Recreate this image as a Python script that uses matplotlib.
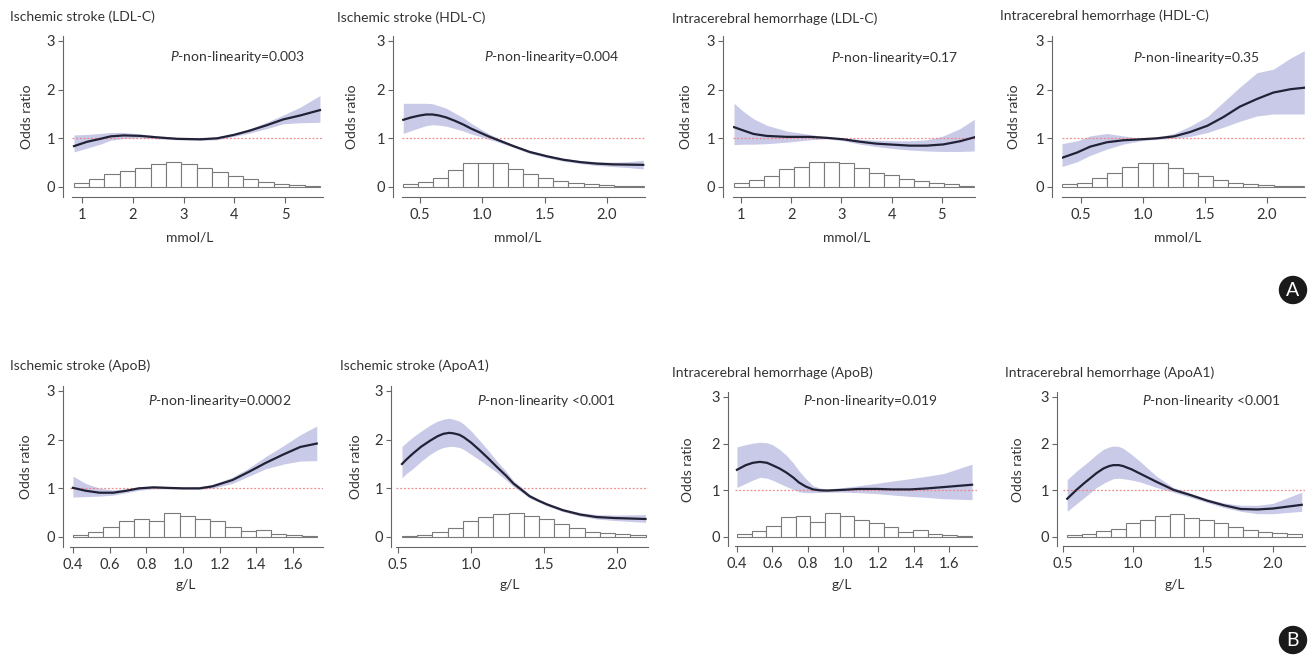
import numpy as np
import matplotlib
matplotlib.use("Agg")
import matplotlib.pyplot as plt
from matplotlib.patches import Circle

plt.rcParams['font.family'] = ['Lato', 'DejaVu Sans']
plt.rcParams['mathtext.fontset'] = 'custom'
plt.rcParams['mathtext.rm'] = 'Lato'
plt.rcParams['mathtext.it'] = 'Lato:italic'

W, H = 1316, 657
TXT = '#333333'
AXC = '#666666'
BAND = '#c9cae8'
LINE = '#222236'
REF = '#f08080'

# ---- A: ischemic stroke, LDL-C ----
is_ldl_x = [0.84, 1.1, 1.36, 1.56, 1.82, 2.15, 2.48, 2.87, 3.33, 3.66, 3.99, 4.31, 4.64, 4.97, 5.30, 5.69]
is_ldl_or = [0.84, 0.93, 0.99, 1.04, 1.06, 1.05, 1.02, 0.99, 0.98, 1.0, 1.07, 1.16, 1.27, 1.39, 1.47, 1.58]
is_ldl_hi = [1.07, 1.08, 1.10, 1.12, 1.12, 1.09, 1.05, 1.02, 1.01, 1.03, 1.10, 1.20, 1.33, 1.48, 1.64, 1.88]
is_ldl_lo = [0.72, 0.80, 0.88, 0.96, 1.0, 1.01, 0.99, 0.97, 0.96, 0.97, 1.04, 1.11, 1.20, 1.30, 1.32, 1.33]
is_ldl_hist = [0.08, 0.16, 0.27, 0.33, 0.40, 0.48, 0.51, 0.48, 0.39, 0.31, 0.23, 0.16, 0.10, 0.07, 0.04, 0.03]
is_ldl_bins = (0.83, 5.69)

# ---- A: ischemic stroke, HDL-C ----
is_hdl_x = [0.366, 0.43, 0.5, 0.55, 0.6, 0.65, 0.71, 0.78, 0.85, 0.91, 0.98, 1.05, 1.12, 1.25, 1.38, 1.52,
            1.65, 1.79, 1.92, 2.05, 2.17, 2.29]
is_hdl_or = [1.38, 1.43, 1.47, 1.49, 1.49, 1.47, 1.43, 1.36, 1.28, 1.20, 1.12, 1.04, 0.97, 0.84, 0.72, 0.63,
             0.56, 0.51, 0.48, 0.465, 0.46, 0.455]
is_hdl_hi = [1.72, 1.72, 1.72, 1.72, 1.71, 1.67, 1.62, 1.52, 1.42, 1.31, 1.20, 1.10, 1.01, 0.87, 0.75, 0.66,
             0.59, 0.54, 0.52, 0.51, 0.52, 0.55]
is_hdl_lo = [1.10, 1.16, 1.22, 1.26, 1.28, 1.27, 1.25, 1.20, 1.15, 1.09, 1.04, 0.98, 0.93, 0.81, 0.69, 0.60,
             0.53, 0.48, 0.44, 0.42, 0.40, 0.37]
is_hdl_hist = [0.055, 0.10, 0.19, 0.34, 0.49, 0.50, 0.49, 0.36, 0.27, 0.19, 0.12, 0.09, 0.06, 0.035, 0.02, 0.015]
is_hdl_bins = (0.361, 2.295)

# ---- A: intracerebral hemorrhage, LDL-C ----
ich_ldl_x = [0.86, 1.05, 1.25, 1.51, 1.91, 2.37, 2.71, 3.04, 3.37, 3.70, 4.03, 4.36, 4.70, 5.03, 5.36, 5.645]
ich_ldl_or = [1.23, 1.16, 1.09, 1.05, 1.03, 1.03, 1.01, 0.98, 0.93, 0.89, 0.87, 0.85, 0.85, 0.875, 0.94, 1.02]
ich_ldl_hi = [1.72, 1.55, 1.40, 1.27, 1.15, 1.08, 1.03, 1.0, 0.98, 0.96, 0.95, 0.95, 0.97, 1.05, 1.20, 1.39]
ich_ldl_lo = [0.87, 0.88, 0.88, 0.89, 0.92, 0.97, 0.99, 0.95, 0.88, 0.83, 0.79, 0.76, 0.74, 0.73, 0.73, 0.74]
ich_ldl_hist = [0.09, 0.15, 0.23, 0.36, 0.42, 0.51, 0.51, 0.49, 0.39, 0.29, 0.24, 0.17, 0.125, 0.08, 0.055, 0.03]
ich_ldl_bins = (0.861, 5.645)

# ---- A: intracerebral hemorrhage, HDL-C ----
ich_hdl_x = [0.347, 0.47, 0.575, 0.71, 0.84, 0.98, 1.11, 1.25, 1.38, 1.52, 1.65, 1.78, 1.92, 2.05, 2.19, 2.30]
ich_hdl_or = [0.60, 0.71, 0.83, 0.92, 0.96, 0.98, 1.0, 1.04, 1.13, 1.26, 1.44, 1.65, 1.81, 1.94, 2.01, 2.04]
ich_hdl_hi = [0.89, 0.95, 1.05, 1.10, 1.05, 1.0, 1.02, 1.10, 1.25, 1.45, 1.75, 2.05, 2.35, 2.42, 2.65, 2.80]
ich_hdl_lo = [0.42, 0.52, 0.65, 0.78, 0.88, 0.95, 0.98, 1.0, 1.04, 1.12, 1.23, 1.35, 1.46, 1.50, 1.50, 1.50]
ich_hdl_hist = [0.055, 0.085, 0.18, 0.28, 0.42, 0.50, 0.49, 0.39, 0.28, 0.22, 0.145, 0.09, 0.06, 0.05, 0.03, 0.02]
ich_hdl_bins = (0.347, 2.296)

# ---- B: ischemic stroke, ApoB ----
is_apob_x = [0.4, 0.47, 0.545, 0.62, 0.69, 0.76, 0.84, 0.91, 1.0, 1.09, 1.16, 1.27, 1.36, 1.45, 1.55, 1.64, 1.73]
is_apob_or = [1.01, 0.95, 0.91, 0.91, 0.95, 1.0, 1.02, 1.01, 1.0, 1.0, 1.04, 1.17, 1.34, 1.52, 1.70, 1.85, 1.92]
is_apob_hi = [1.25, 1.10, 1.0, 0.97, 0.99, 1.03, 1.05, 1.04, 1.02, 1.03, 1.08, 1.23, 1.42, 1.65, 1.88, 2.10, 2.28]
is_apob_lo = [0.82, 0.83, 0.84, 0.86, 0.91, 0.96, 0.99, 0.99, 0.98, 0.98, 1.0, 1.10, 1.25, 1.40, 1.50, 1.56, 1.57]
is_apob_hist = [0.04, 0.11, 0.20, 0.32, 0.38, 0.33, 0.50, 0.43, 0.36, 0.32, 0.21, 0.12, 0.14, 0.07, 0.05, 0.02]
is_apob_bins = (0.4, 1.731)

# ---- B: ischemic stroke, ApoA1 ----
is_apoa_x = [0.527, 0.56, 0.60, 0.66, 0.72, 0.77, 0.81, 0.85, 0.88, 0.92, 0.95, 1.0, 1.06, 1.12, 1.18, 1.24,
             1.29, 1.35, 1.40, 1.46, 1.52, 1.63, 1.75, 1.86, 1.98, 2.195]
is_apoa_or = [1.50, 1.60, 1.71, 1.86, 1.98, 2.07, 2.12, 2.14, 2.13, 2.10, 2.05, 1.94, 1.78, 1.61, 1.43, 1.26,
              1.10, 0.96, 0.84, 0.75, 0.67, 0.55, 0.46, 0.41, 0.39, 0.37]
is_apoa_hi = [1.86, 1.95, 2.05, 2.18, 2.30, 2.38, 2.42, 2.44, 2.42, 2.38, 2.32, 2.18, 1.98, 1.77, 1.55, 1.35,
              1.16, 1.01, 0.88, 0.78, 0.70, 0.58, 0.50, 0.46, 0.45, 0.46]
is_apoa_lo = [1.22, 1.31, 1.40, 1.56, 1.70, 1.79, 1.84, 1.86, 1.86, 1.84, 1.80, 1.70, 1.58, 1.45, 1.32, 1.17,
              1.04, 0.91, 0.80, 0.72, 0.64, 0.52, 0.43, 0.37, 0.34, 0.30]
is_apoa_hist = [0.03, 0.05, 0.10, 0.18, 0.32, 0.41, 0.47, 0.50, 0.44, 0.37, 0.26, 0.19, 0.11, 0.08, 0.06, 0.035]
is_apoa_bins = (0.527, 2.195)

# ---- B: intracerebral hemorrhage, ApoB ----
ich_apob_x = [0.4, 0.45, 0.49, 0.53, 0.57, 0.60, 0.64, 0.68, 0.72, 0.75, 0.79, 0.83, 0.87, 0.91, 1.0, 1.09,
              1.19, 1.28, 1.38, 1.47, 1.57, 1.73]
ich_apob_or = [1.44, 1.54, 1.59, 1.61, 1.59, 1.54, 1.47, 1.38, 1.27, 1.17, 1.08, 1.02, 1.0, 0.995, 1.01, 1.03,
               1.03, 1.02, 1.02, 1.04, 1.07, 1.12]
ich_apob_hi = [1.93, 1.98, 2.01, 2.03, 2.02, 1.98, 1.88, 1.75, 1.58, 1.42, 1.25, 1.10, 1.05, 1.03, 1.06, 1.10,
               1.15, 1.20, 1.25, 1.30, 1.36, 1.56]
ich_apob_lo = [1.06, 1.15, 1.22, 1.28, 1.26, 1.22, 1.15, 1.08, 1.02, 0.97, 0.95, 0.95, 0.955, 0.96, 0.96, 0.95,
               0.93, 0.90, 0.87, 0.85, 0.82, 0.80]
ich_apob_hist = [0.07, 0.12, 0.23, 0.42, 0.45, 0.32, 0.51, 0.45, 0.36, 0.31, 0.21, 0.11, 0.14, 0.07, 0.04, 0.03]
ich_apob_bins = (0.4, 1.728)

# ---- B: intracerebral hemorrhage, ApoA1 ----
ich_apoa_x = [0.53, 0.60, 0.65, 0.695, 0.74, 0.79, 0.83, 0.86, 0.90, 0.93, 0.99, 1.05, 1.11, 1.17, 1.29, 1.41,
              1.53, 1.65, 1.77, 1.89, 2.0, 2.207]
ich_apoa_or = [0.82, 1.02, 1.15, 1.26, 1.37, 1.47, 1.52, 1.54, 1.54, 1.52, 1.45, 1.36, 1.27, 1.18, 1.01, 0.90,
               0.78, 0.68, 0.60, 0.59, 0.61, 0.69]
ich_apoa_hi = [1.23, 1.42, 1.54, 1.65, 1.77, 1.88, 1.93, 1.95, 1.94, 1.90, 1.77, 1.62, 1.46, 1.30, 1.06, 0.94,
               0.82, 0.73, 0.68, 0.68, 0.72, 0.96]
ich_apoa_lo = [0.55, 0.72, 0.84, 0.95, 1.06, 1.15, 1.21, 1.25, 1.26, 1.25, 1.22, 1.18, 1.12, 1.06, 0.96, 0.85,
               0.74, 0.63, 0.55, 0.50, 0.50, 0.55]
ich_apoa_hist = [0.04, 0.06, 0.12, 0.18, 0.29, 0.36, 0.44, 0.50, 0.41, 0.37, 0.29, 0.22, 0.14, 0.11, 0.09, 0.06]
ich_apoa_bins = (0.529, 2.207)

titles = ['Ischemic stroke (LDL-C)', 'Ischemic stroke (HDL-C)',
          'Intracerebral hemorrhage (LDL-C)', 'Intracerebral hemorrhage (HDL-C)',
          'Ischemic stroke (ApoB)', 'Ischemic stroke (ApoA1)',
          'Intracerebral hemorrhage (ApoB)', 'Intracerebral hemorrhage (ApoA1)']
p_texts = ['=0.003', '=0.004', '=0.17', '=0.35', '=0.0002', ' <0.001', '=0.019', ' <0.001']
units = ['mmol/L'] * 4 + ['g/L'] * 4

ticks_ldl = [1, 2, 3, 4, 5]
ticks_hdl = [0.5, 1.0, 1.5, 2.0]
ticks_apob = [0.4, 0.6, 0.8, 1.0, 1.2, 1.4, 1.6]
ticks_apoa = [0.5, 1.0, 1.5, 2.0]

series = [
    (is_ldl_x, is_ldl_or, is_ldl_lo, is_ldl_hi, is_ldl_hist, is_ldl_bins, ticks_ldl, '{:.0f}'),
    (is_hdl_x, is_hdl_or, is_hdl_lo, is_hdl_hi, is_hdl_hist, is_hdl_bins, ticks_hdl, '{:.1f}'),
    (ich_ldl_x, ich_ldl_or, ich_ldl_lo, ich_ldl_hi, ich_ldl_hist, ich_ldl_bins, ticks_ldl, '{:.0f}'),
    (ich_hdl_x, ich_hdl_or, ich_hdl_lo, ich_hdl_hi, ich_hdl_hist, ich_hdl_bins, ticks_hdl, '{:.1f}'),
    (is_apob_x, is_apob_or, is_apob_lo, is_apob_hi, is_apob_hist, is_apob_bins, ticks_apob, '{:.1f}'),
    (is_apoa_x, is_apoa_or, is_apoa_lo, is_apoa_hi, is_apoa_hist, is_apoa_bins, ticks_apoa, '{:.1f}'),
    (ich_apob_x, ich_apob_or, ich_apob_lo, ich_apob_hi, ich_apob_hist, ich_apob_bins, ticks_apob, '{:.1f}'),
    (ich_apoa_x, ich_apoa_or, ich_apoa_lo, ich_apoa_hi, ich_apoa_hist, ich_apoa_bins, ticks_apoa, '{:.1f}'),
]

# layout in pixels: data-area left/right, y px of 0 and 3, spine offset, xlim,
# title (x, baseline), p-text (x, baseline), ylabel x, xlabel (x, y)
layout = [
    (72, 323, 187, 41, 9, (0.80, 5.75), (10, 21), (170, 61), 27, (190, 237)),
    (402, 645, 187, 41, 9, (0.356, 2.304), (337, 22), (484, 61), 352, (518, 237)),
    (733, 975, 187, 41, 10, (0.84, 5.66), (672, 23), (831, 62), 686, (847, 237)),
    (1062, 1305, 187, 41, 10, (0.347, 2.306), (1000, 20), (1133, 62), 1014, (1178, 237)),
    (70, 323, 537, 391, 7, (0.384, 1.764), (10, 370), (148, 405), 26, (186, 585)),
    (396, 648, 537, 391, 5, (0.486, 2.212), (340, 370), (477, 405), 356, (510, 585)),
    (735, 977, 537, 397, 7, (0.389, 1.758), (672, 377), (803, 405), 688, (842, 585)),
    (1063, 1305, 537, 397, 6, (0.5, 2.23), (1005, 377), (1142, 405), 1018, (1175, 585)),
]

fig = plt.figure(figsize=(W / 100, H / 100), dpi=100)

for i, (s, lay) in enumerate(zip(series, layout)):
    x, orr, lo, hi, hist, bins, ticks, fmt = s
    L, R, y0, y3, off, xlim, tpos, ppos, ylx, xlpos = lay
    ppu = (y0 - y3) / 3
    top = y3 - 0.1 * ppu
    bot = y0 + 0.2 * ppu
    ax = fig.add_axes([L / W, 1 - bot / H, (R - L) / W, (bot - top) / H])
    ax.set_xlim(*xlim)
    ax.set_ylim(-0.2, 3.1)

    edges = np.linspace(bins[0], bins[1], len(hist) + 1)
    ax.bar(edges[:-1], hist, width=np.diff(edges), align='edge',
           color='white', edgecolor='#7a7a7a', linewidth=0.8, zorder=2)
    ax.fill_between(x, lo, hi, color=BAND, linewidth=0, zorder=3)
    ax.axhline(1, color=REF, linestyle=(0, (1.5, 1.5)), linewidth=0.9, zorder=4, alpha=0.9)
    ax.plot(x, orr, color=LINE, linewidth=1.6, zorder=5, solid_joinstyle='round')

    for sp in ['top', 'right']:
        ax.spines[sp].set_visible(False)
    ax.spines['left'].set_position(('outward', off * 0.72))
    for sp in ['left', 'bottom']:
        ax.spines[sp].set_color(AXC)
        ax.spines[sp].set_linewidth(0.8)

    ax.set_yticks([0, 1, 2, 3])
    ax.set_xticks(ticks)
    ax.set_xticklabels([fmt.format(t) for t in ticks])
    ax.tick_params(axis='y', length=3.6, width=0.8, color=AXC, labelcolor=TXT,
                   labelsize=10.5, pad=2)
    ax.tick_params(axis='x', length=4, width=0.8, color=AXC, labelcolor=TXT,
                   labelsize=10.5, pad=4)
    ax.patch.set_alpha(0)

    fig.text(tpos[0] / W, 1 - tpos[1] / H, titles[i], fontsize=10,
             color=TXT, ha='left', va='baseline')
    fig.text(ppos[0] / W, 1 - ppos[1] / H, r'$P$-non-linearity' + p_texts[i],
             fontsize=10, color=TXT, ha='left', va='baseline')
    fig.text(ylx / W, 1 - ((top + bot) / 2) / H, 'Odds ratio', fontsize=10,
             color=TXT, rotation=90, ha='center', va='center')
    fig.text(xlpos[0] / W, 1 - xlpos[1] / H, units[i], fontsize=10,
             color=TXT, ha='center', va='center')

for label, (cx, cy) in zip(['A', 'B'], [(1293, 290), (1293, 640)]):
    fig.add_artist(Circle((cx / 100, (H - cy) / 100), 0.135,
                          transform=fig.dpi_scale_trans, color='#1a1a1a'))
    fig.text(cx / W, 1 - cy / H, label, fontsize=14, color='white',
             ha='center', va='center')

fig.savefig('out.png', dpi=100)
